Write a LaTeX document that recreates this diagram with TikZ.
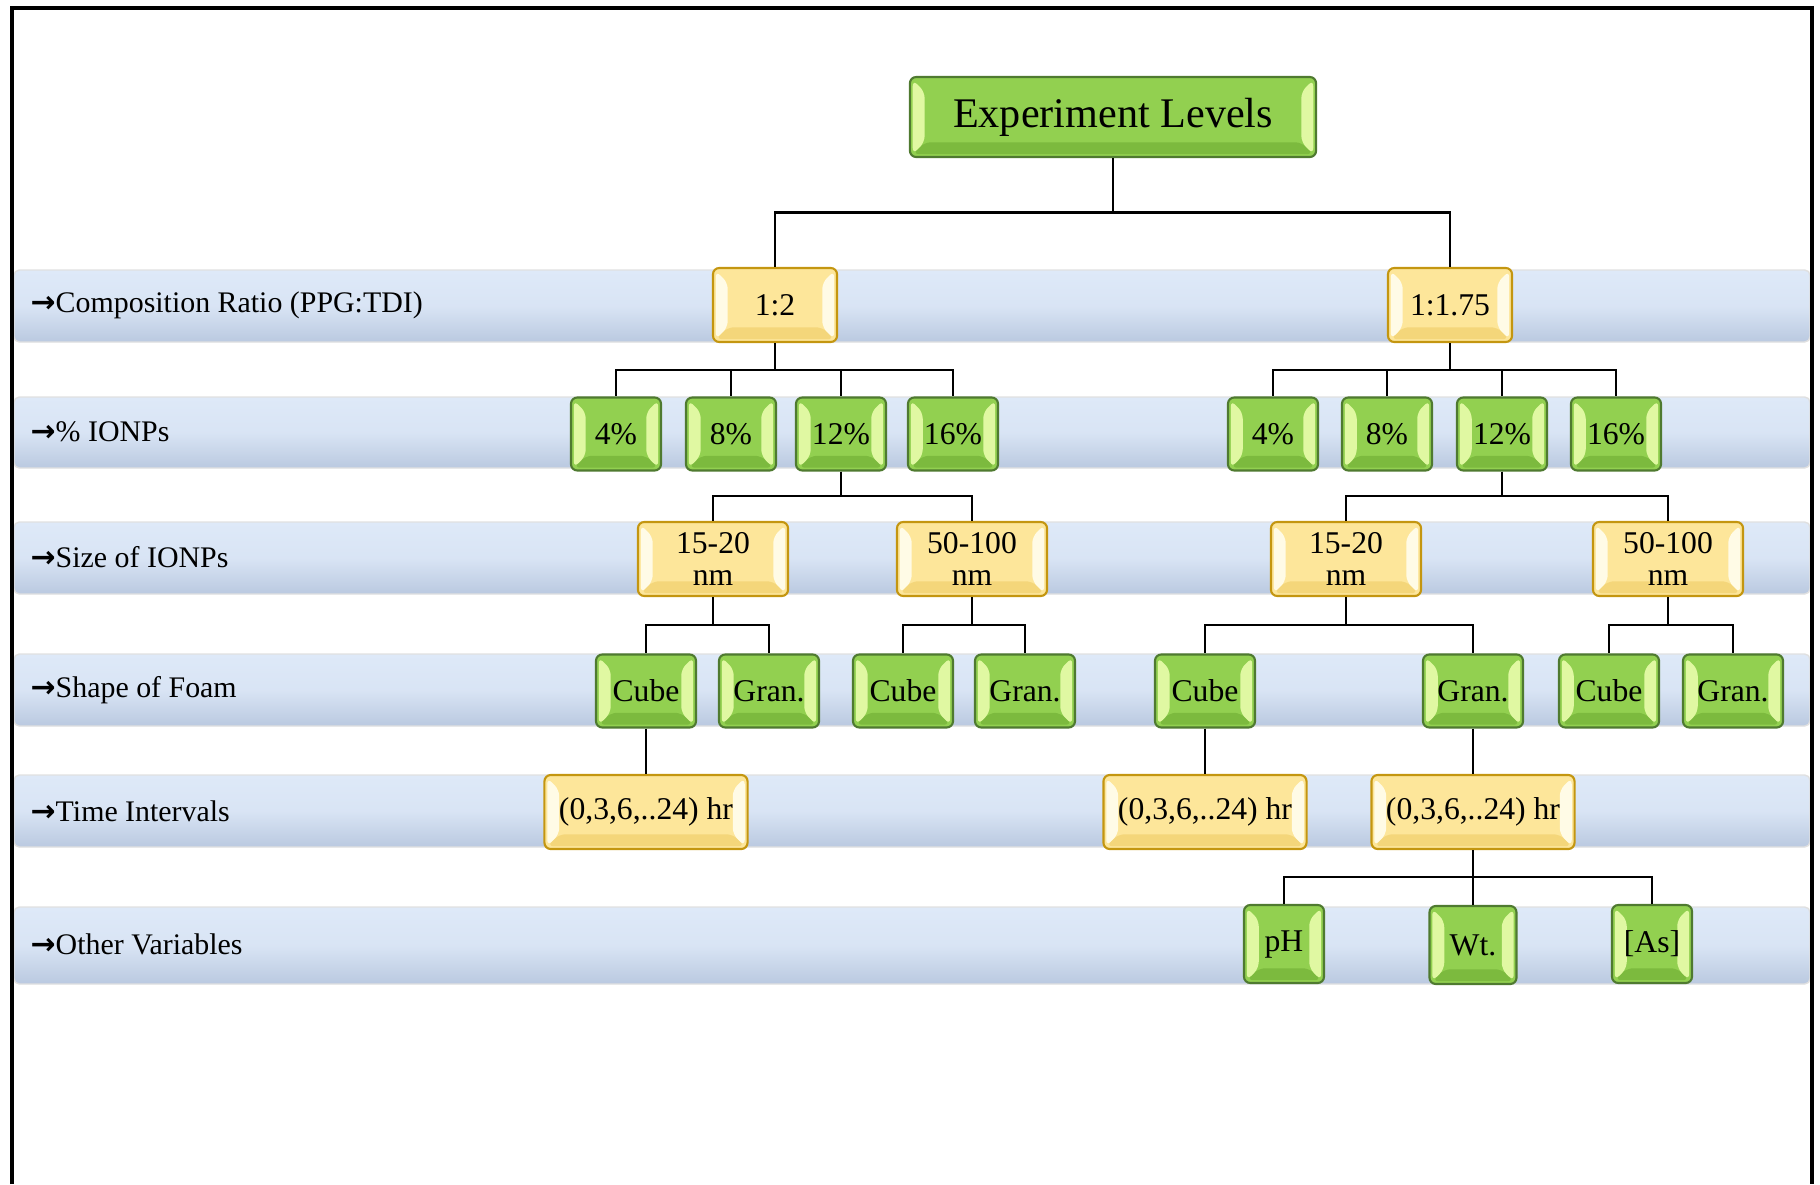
\documentclass[tikz,border=0pt]{standalone}
\usepackage{fontspec}
\setmainfont{Liberation Serif}
\newfontfamily\arrowfont{DejaVu Sans}
\usetikzlibrary{calc}
\definecolor{leaf}{RGB}{146,208,80}
\definecolor{leafdk}{RGB}{79,122,48}
\definecolor{leafhl}{RGB}{224,248,162}
\definecolor{leafsh}{RGB}{124,186,62}
\definecolor{opt}{RGB}{253,230,154}
\definecolor{optdk}{RGB}{196,150,16}
\definecolor{opthl}{RGB}{255,251,230}
\definecolor{optsh}{RGB}{244,214,122}
\definecolor{bandt}{RGB}{222,233,248}
\definecolor{bandb}{RGB}{186,201,224}
\tikzset{
  lvl/.style={draw=#1dk, fill=#1, line width=0.6pt, rounded corners=1.8pt,
              inner sep=0pt, minimum height=0.73cm, align=center,
              font=\fontsize{9}{9.3}\selectfont,
              path picture={
                \coordinate (pp-sw) at (path picture bounding box.south west);
                \coordinate (pp-ne) at (path picture bounding box.north east);
                \fill[#1sh] ($(pp-sw)+(0.8pt,0.8pt)$) -- ($(pp-ne|-pp-sw)+(-0.8pt,0.8pt)$)
                  -- ++(-3.4pt,3.4pt) -- ($(pp-sw)+(4.2pt,4.2pt)$) -- cycle;
                \fill[#1hl] ($(pp-sw)+(0.8pt,0.8pt)$) -- ($(pp-sw|-pp-ne)+(0.8pt,-0.8pt)$)
                  -- ++(3.4pt,-3.4pt) -- ($(pp-sw)+(4.2pt,4.2pt)$) -- cycle;
                \fill[#1hl] ($(pp-ne)+(-0.8pt,-0.8pt)$) -- ($(pp-ne|-pp-sw)+(-0.8pt,0.8pt)$)
                  -- ++(-3.4pt,3.4pt) -- ($(pp-ne)+(-4.2pt,-4.2pt)$) -- cycle;
              }},
  lvl/.default=leaf,
  ratiobox/.style={lvl=opt, minimum width=1.24cm, minimum height=0.74cm},
  pctbox/.style={lvl=leaf, minimum width=0.9cm},
  nmbox/.style={lvl=opt, minimum width=1.5cm, minimum height=0.74cm},
  foambox/.style={lvl=leaf, minimum width=1.0cm},
  hrbox/.style={lvl=opt, minimum width=2.03cm, minimum height=0.74cm},
  varbox/.style={lvl=leaf, minimum width=0.8cm, minimum height=0.78cm},
  rowtag/.style={anchor=west, inner sep=0pt, font=\fontsize{8.5}{10}\selectfont},
  band/.style={draw=black!12, line width=0.4pt, rounded corners=1.5pt,
               top color=bandt, bottom color=bandb, middle color=bandt!85!bandb},
  link/.style={line width=0.7pt},
  fork/.style={to path={(\tikztostart.south)
      |- ($(\tikztostart.south)!.5!(\tikztotarget.north)$)
      -| (\tikztotarget.north)}},
}
\newcommand{\rowarrow}{{\arrowfont\bfseries →}}

\begin{document}
\begin{tikzpicture}[x=0.01cm, y=-0.01cm]
  \useasboundingbox (0,0) rectangle (1820,1184);
  % bands
  \shade[band] (14,270) rectangle (1810,342);
  \shade[band] (14,397) rectangle (1810,468);
  \shade[band] (14,522) rectangle (1810,594);
  \shade[band] (14,654) rectangle (1810,726);
  \shade[band] (14,775) rectangle (1810,847);
  \shade[band] (14,907) rectangle (1810,984);
  % frame
  \draw[line width=1.15pt] (12,1184) -- (12,8) -- (1812,8) -- (1812,1184);
  % row labels
  \node[rowtag] (tagcomp)  at (30,305) {\rowarrow Composition Ratio (PPG:TDI)};
  \node[rowtag] (tagpct)   at (30,432) {\rowarrow\% IONPs};
  \node[rowtag] (tagsize)  at (30,557) {\rowarrow Size of IONPs};
  \node[rowtag] (tagshape) at (30,690) {\rowarrow Shape of Foam};
  \node[rowtag] (tagtime)  at (30,811) {\rowarrow Time Intervals};
  \node[rowtag] (tagvar)   at (30,944) {\rowarrow Other Variables};

  \node[lvl, minimum width=4.06cm, minimum height=0.8cm,
        font=\fontsize{12}{14}\selectfont] (levels) at (1113,117) {Experiment Levels};
  \node[ratiobox] (r12)  at (775,305)  {1:2};
  \node[ratiobox] (r175) at (1450,305) {1:1.75};

  \node[pctbox] (pa4)  at (616,434)  {4\%};
  \node[pctbox] (pa8)  at (731,434)  {8\%};
  \node[pctbox] (pa12) at (841,434)  {12\%};
  \node[pctbox] (pa16) at (953,434)  {16\%};
  \node[pctbox] (pb4)  at (1273,434) {4\%};
  \node[pctbox] (pb8)  at (1387,434) {8\%};
  \node[pctbox] (pb12) at (1502,434) {12\%};
  \node[pctbox] (pb16) at (1616,434) {16\%};

  \node[nmbox] (sa1520)  at (713,559)  {15-20\\nm};
  \node[nmbox] (sa50100) at (972,559)  {50-100\\nm};
  \node[nmbox] (sb1520)  at (1346,559) {15-20\\nm};
  \node[nmbox] (sb50100) at (1668,559) {50-100\\nm};

  \node[foambox] (fa1c) at (646,691)  {Cube};
  \node[foambox] (fa1g) at (769,691)  {Gran.};
  \node[foambox] (fa2c) at (903,691)  {Cube};
  \node[foambox] (fa2g) at (1025,691) {Gran.};
  \node[foambox] (fb1c) at (1205,691) {Cube};
  \node[foambox] (fb1g) at (1473,691) {Gran.};
  \node[foambox] (fb2c) at (1609,691) {Cube};
  \node[foambox] (fb2g) at (1733,691) {Gran.};

  \node[hrbox] (ta) at (646,812)  {(0,3,6,..24) hr};
  \node[hrbox] (tb) at (1205,812) {(0,3,6,..24) hr};
  \node[hrbox] (tc) at (1473,812) {(0,3,6,..24) hr};

  \node[varbox] (vph) at (1284,944) {pH};
  \node[varbox, minimum width=0.87cm] (vwt) at (1473,945) {Wt.};
  \node[varbox] (vas) at (1652,944) {[As]};

  % connectors
  \draw[link] (levels) edge[fork] (r12) edge[fork] (r175);
  \draw[link] (r12) edge[fork] (pa4) edge[fork] (pa8) edge[fork] (pa12) edge[fork] (pa16);
  \draw[link] (r175) edge[fork] (pb4) edge[fork] (pb8) edge[fork] (pb12) edge[fork] (pb16);
  \draw[link] (pa12) edge[fork] (sa1520) edge[fork] (sa50100);
  \draw[link] (pb12) edge[fork] (sb1520) edge[fork] (sb50100);
  \draw[link] (sa1520) edge[fork] (fa1c) edge[fork] (fa1g);
  \draw[link] (sa50100) edge[fork] (fa2c) edge[fork] (fa2g);
  \draw[link] (sb1520) edge[fork] (fb1c) edge[fork] (fb1g);
  \draw[link] (sb50100) edge[fork] (fb2c) edge[fork] (fb2g);
  \draw[link] (fa1c) edge[fork] (ta);
  \draw[link] (fb1c) edge[fork] (tb);
  \draw[link] (fb1g) edge[fork] (tc);
  \draw[link] (tc) edge[fork] (vph) edge[fork] (vwt) edge[fork] (vas);
\end{tikzpicture}
\end{document}
